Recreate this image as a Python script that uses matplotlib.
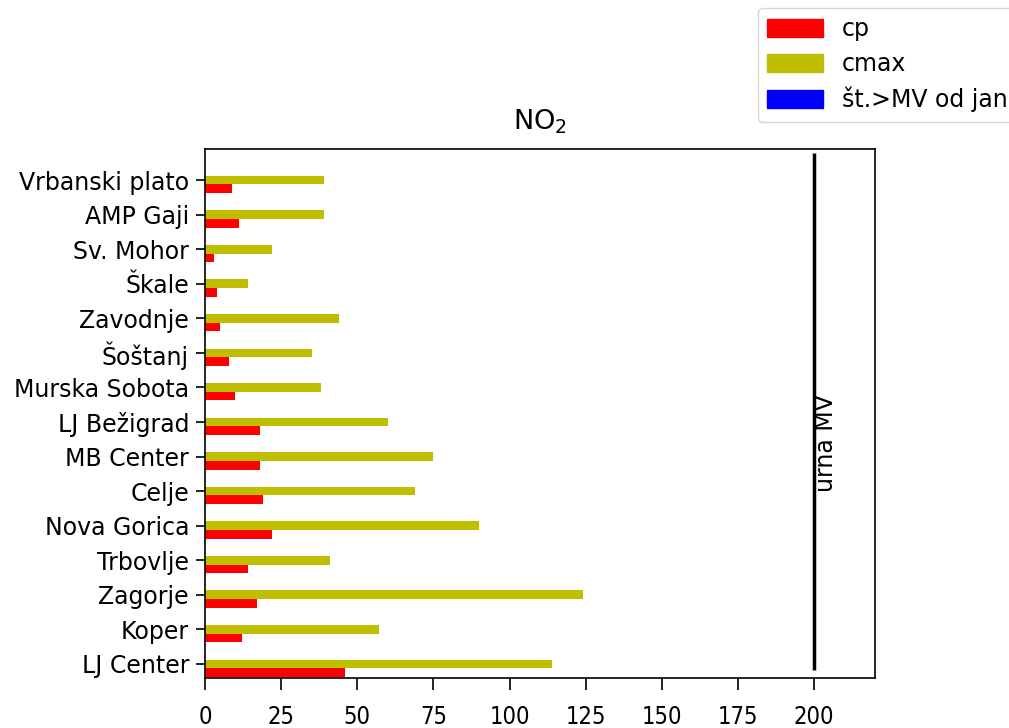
import matplotlib
matplotlib.use("Agg")
import matplotlib.pyplot as plt
import numpy as np
from matplotlib.patches import Patch
from matplotlib import font_manager as fm

stations = ["LJ Center", "Koper", "Zagorje", "Trbovlje", "Nova Gorica", "Celje",
            "MB Center", "LJ Bežigrad", "Murska Sobota", "Šoštanj", "Zavodnje",
            "Škale", "Sv. Mohor", "AMP Gaji", "Vrbanski plato"]
cp = [46, 12, 17, 14, 22, 19, 18, 18, 10, 8, 5, 4, 3, 11, 9]
cmax = [114, 57, 124, 41, 90, 69, 75, 60, 38, 35, 44, 14, 22, 39, 39]
exceed = [0] * 15
mv_limit = 200
xticks = [0, 25, 50, 75, 100, 125, 150, 175, 200]

fs = 17
cond_path = None
for f in fm.fontManager.ttflist:
    if f.fname.endswith("DejaVuSansCondensed.ttf"):
        cond_path = f.fname
        break
if cond_path:
    xfont = fm.FontProperties(fname=cond_path, size=fs)
else:
    xfont = fm.FontProperties(family="DejaVu Sans", size=fs - 1.5)

fig = plt.figure(figsize=(10.09, 7.28), dpi=100)
ax = fig.add_axes([205/1009, 1-677.7/728, (875-205)/1009, (677.7-149)/728])

y = np.arange(len(stations))
h = 0.25
ax.barh(y - h, cp, height=h, color="#ff0000")
ax.barh(y, cmax, height=h, color="#bfbf00")
ax.barh(y + h, exceed, height=h, color="#0000ff")

ax.vlines(mv_limit, -0.17, 14.78, color="black", linewidth=2.5)
ax.text(mv_limit, 6.4, "urna MV", rotation=90, ha="left", va="center", fontsize=fs)

ax.set_xlim(0, 220)
ax.set_ylim(-0.4, 14.9)
ax.set_yticks(y)
ax.set_yticklabels(stations, fontsize=fs)
ax.set_xticks(xticks)
ax.set_xticklabels([str(v) for v in xticks])
for lab in ax.get_xticklabels():
    lab.set_fontproperties(xfont)
ax.tick_params(axis="x", length=8.5, width=1.2, pad=11)
ax.tick_params(axis="y", length=6.5, width=1.2, pad=5)
for s in ax.spines.values():
    s.set_linewidth(1.2)
ax.set_title("NO$_2$", fontsize=19.5, pad=14)

handles = [Patch(color="#ff0000"), Patch(color="#bfbf00"), Patch(color="#0000ff")]
fig.legend(handles, ["cp", "cmax", "št.>MV od jan"], loc="upper left",
           bbox_to_anchor=(758/1009, 1-8/728), fontsize=fs, frameon=True,
           handlelength=2.35, handleheight=0.8, labelspacing=0.45, borderaxespad=0)

fig.savefig("out.png", dpi=100)
